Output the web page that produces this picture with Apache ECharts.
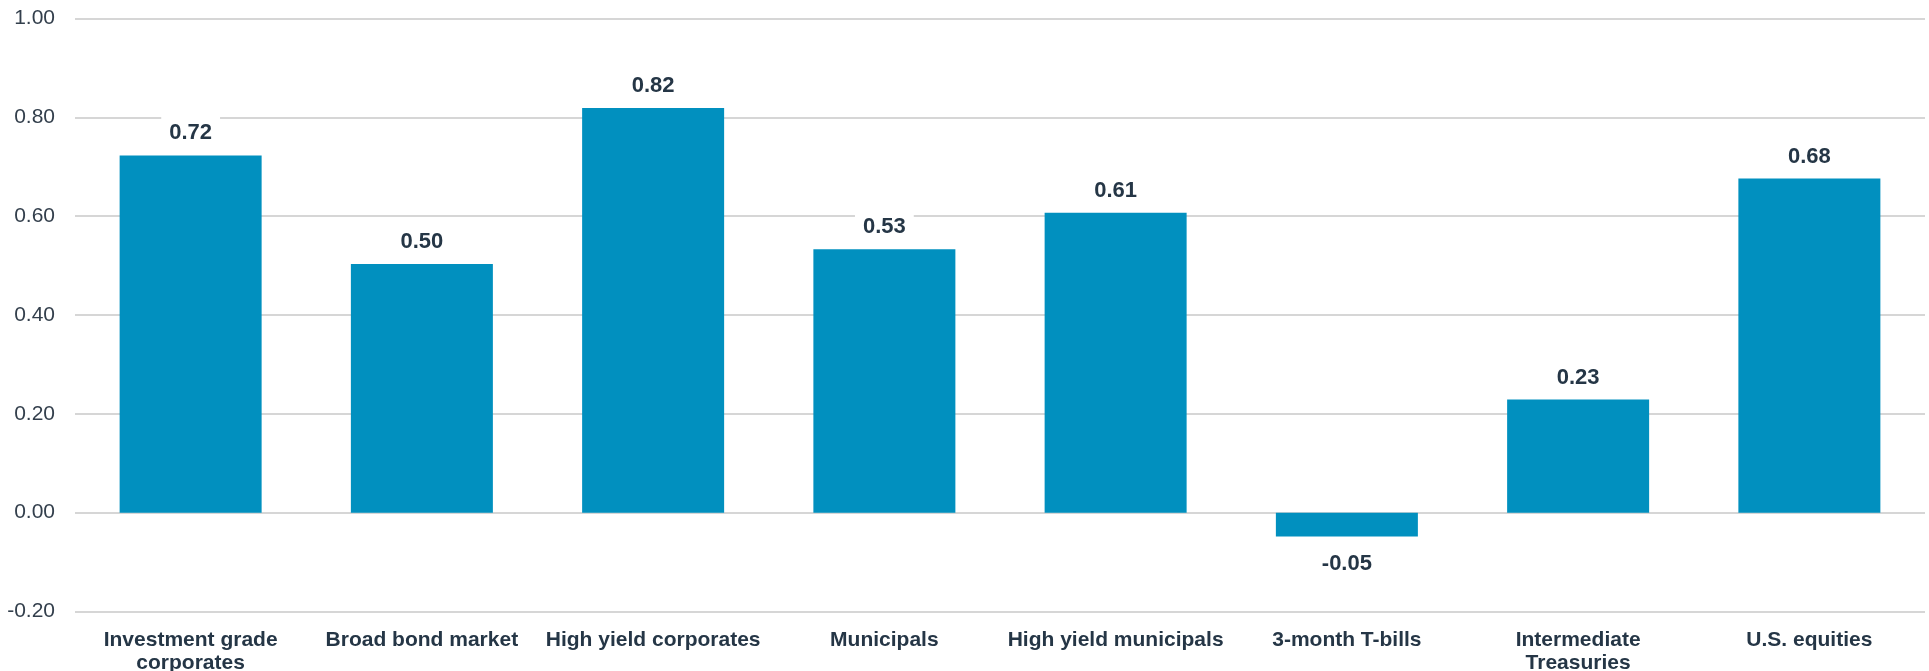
<!DOCTYPE html>
<html>
<head>
<meta charset="utf-8">
<style>
  html, body { margin: 0; padding: 0; background: #fff; }
  #chart { width: 1929px; height: 671px; }
</style>
<script src="https://cdn.jsdelivr.net/npm/echarts@6/dist/echarts.min.js"></script>
</head>
<body>
<div id="chart"></div>
<script>
// categories and values
const categories = [
  'Investment grade\ncorporates',
  'Broad bond market',
  'High yield corporates',
  'Municipals',
  'High yield municipals',
  '3-month T-bills',
  'Intermediate\nTreasuries',
  'U.S. equities'
]
const values = [0.723, 0.503, 0.819, 0.533, 0.607, -0.048, 0.229, 0.676]

const yMin = -0.2
const yMax = 1.0
const yStep = 0.2

const FONT = '"Liberation Sans", Arial, sans-serif'
const NAVY = '#253646'

const chart = echarts.init(document.getElementById('chart'))

// negative bar puts its label underneath
const barData = values.map(v => ({
  value: v,
  label: v < 0
    ? { position: 'bottom', distance: 15, padding: [2, 8, 2, 8] }
    : { position: 'top', distance: 9, padding: [12, 8, 2, 8] }
}))

chart.setOption({
  animation: false,
  grid: {
    left: 75, right: 4, top: 18.5, bottom: 59.5,
    containLabel: false,
    outerBoundsMode: 'none' // keep the plot size fixed, labels may hang off the bottom
  },
  xAxis: {
    type: 'category',
    data: categories,
    axisLine: { show: false, onZero: false },
    axisTick: { show: false },
    axisLabel: {
      interval: 0,
      margin: 17,
      color: NAVY,
      fontFamily: FONT,
      fontSize: 21,
      fontWeight: 'bold',
      lineHeight: 23
    }
  },
  yAxis: {
    type: 'value',
    min: yMin,
    max: yMax,
    interval: yStep,
    axisLine: { show: false },
    axisTick: { show: false },
    splitLine: { lineStyle: { color: '#c8c8c8', width: 1.5 } },
    axisLabel: {
      margin: 20,
      color: '#333f4c',
      fontFamily: FONT,
      fontSize: 21,
      formatter: v => v.toFixed(2)
    }
  },
  series: [{
    type: 'bar',
    data: barData,
    barWidth: 142,
    itemStyle: { color: '#0190bf' },
    label: {
      show: true,
      color: NAVY,
      fontFamily: FONT,
      fontSize: 22,
      fontWeight: 'bold',
      backgroundColor: '#fff',
      formatter: p => p.value.toFixed(2)
    }
  }]
})
</script>
</body>
</html>
